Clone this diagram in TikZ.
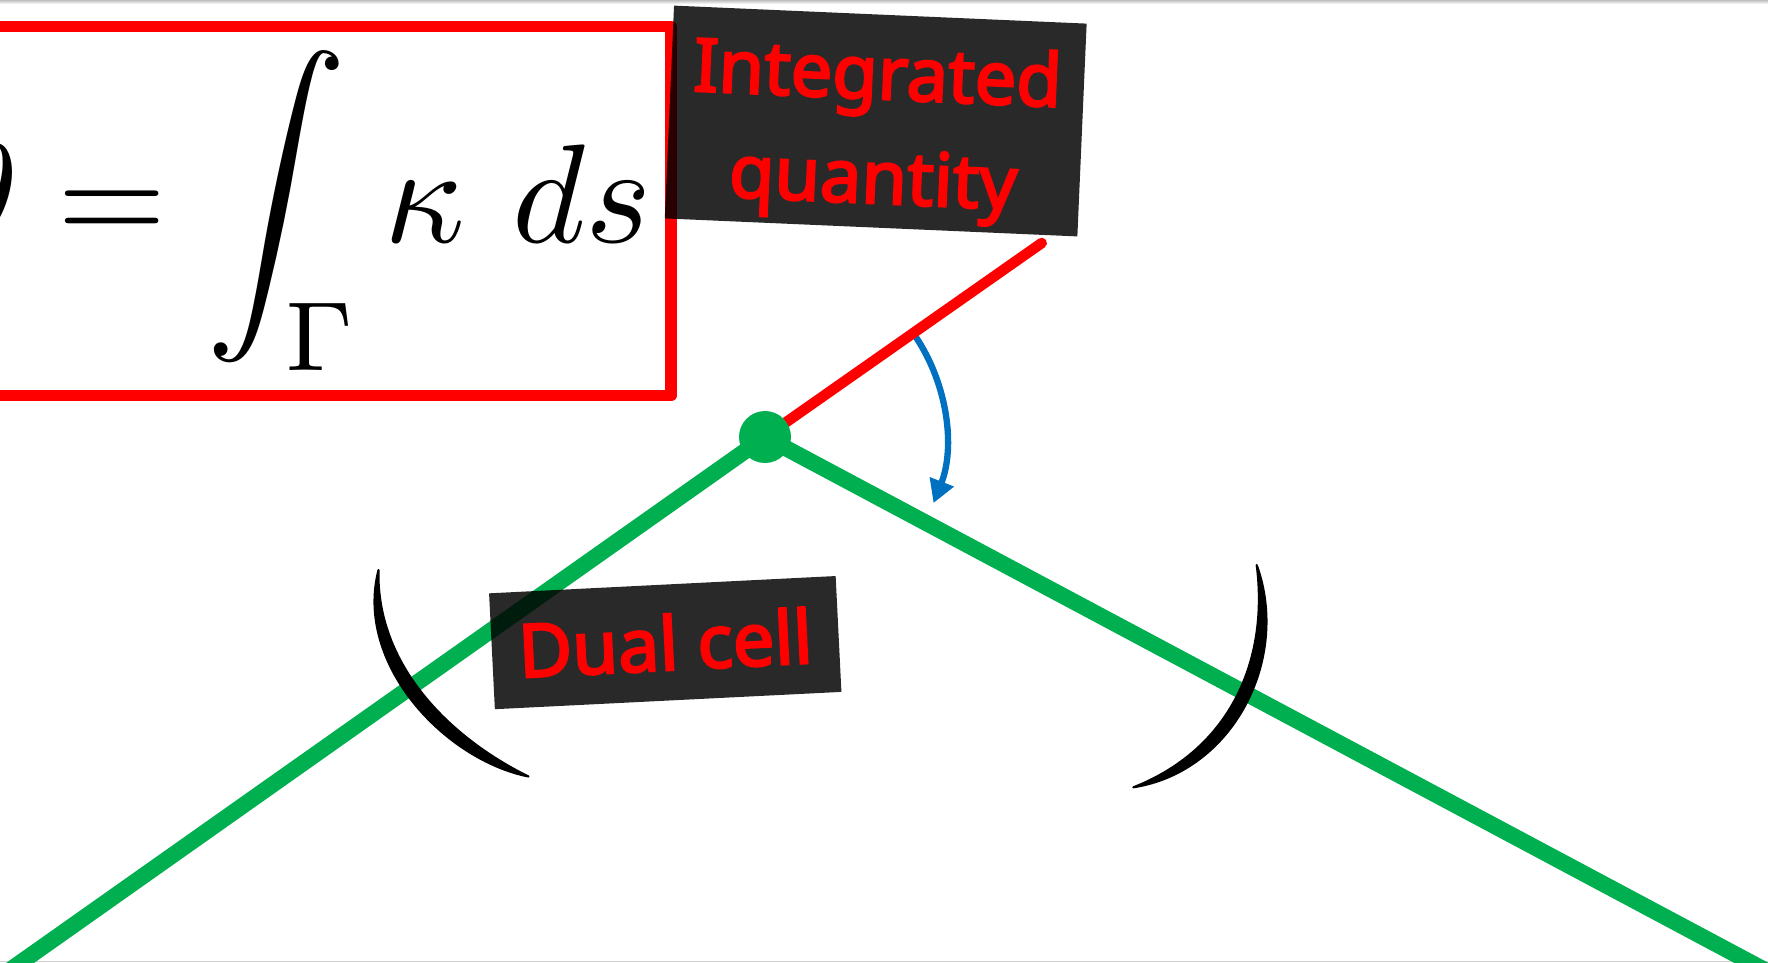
\documentclass[tikz,border=0pt]{standalone}
\usepackage{fontspec}
\newfontfamily\lblfont{Noto Sans}[FakeBold=3.2]
\usetikzlibrary{arrows.meta,calc}
\definecolor{xred}{HTML}{FF0000}
\definecolor{xgreen}{HTML}{00B050}
\definecolor{xblue}{HTML}{0070C0}
\begin{document}
\begin{tikzpicture}[x=0.1mm,y=-0.1mm,
  frame/.style={draw=xred, line width=3.4pt, line join=round},
  greenline/.style={draw=xgreen, line width=4.6pt},
  redline/.style={draw=xred, line width=3pt, line cap=round},
  darkbox/.style={fill=black, fill opacity=0.84, draw=none, inner sep=0pt},
  lbltext/.style={text=xred, font=\lblfont\fontsize{21}{29.7}\selectfont, align=center, inner sep=0pt},
  bluearrow/.style={draw=xblue, line width=1.8pt, -{Triangle[length=6.5pt,width=7pt]}},
  brush/.style={fill=black, draw=black, line width=0.6pt, line join=round, line cap=round}]
\useasboundingbox (0,0) rectangle (1768,962);
\clip (0,0) rectangle (1768,962);
% page edges
\shade[top color=black!25, bottom color=white] (0,0) rectangle (1768,4);
\draw[black!18, line width=0.3pt] (0,961.5) -- (1768,961.5);
% formula frame
\draw[frame] (-30,26.5) -- (671,26.5) -- (671,395.5) -- (-30,395.5);
\node[anchor=base east, inner sep=0pt, scale=4.0] (eq) at (654,242) {$\displaystyle \theta = \int_{\Gamma} \kappa\ ds$};
% lines
\coordinate (v) at (765,437);
\coordinate (gl) at (-32.5,1000);
\coordinate (gr) at (1821,1000);
\coordinate (re) at (1041.7,243);
\draw[greenline] (gl) -- (v) -- (gr);
\draw[bluearrow] ($(v)+(-34:181)$) arc[start angle=-34, end angle=21.4, radius=181];
\draw[redline] (v) -- (re);
\fill[xgreen] (v) circle[radius=2.6mm];
% brush arcs
\filldraw[brush] (378.5,570) .. controls (354.3,663.5) and (444.5,759.6) .. (528.5,776.5)
  .. controls (451.5,738.6) and (376.1,666.5) .. (378.5,570) -- cycle;
\filldraw[brush] (1256.7,565) .. controls (1290.7,659.6) and (1232.7,771.9) .. (1133.3,787.3)
  .. controls (1226.9,750.7) and (1269.3,664.8) .. (1256.7,565) -- cycle;
% labels
\node[darkbox, minimum width=41.3mm, minimum height=21.3mm, rotate=-2.5] (iq) at (875.7,121) {};
\node[lbltext, rotate=-2.5, yshift=-3.1pt] (iqt) at (iq.center) {Integrated\\quantity};
\node[darkbox, minimum width=34.7mm, minimum height=11.6mm, rotate=2.86] (dc) at (665.25,642.6) {};
\node[lbltext, rotate=2.86] (dct) at (dc.center) {Dual cell};
\end{tikzpicture}
\end{document}
